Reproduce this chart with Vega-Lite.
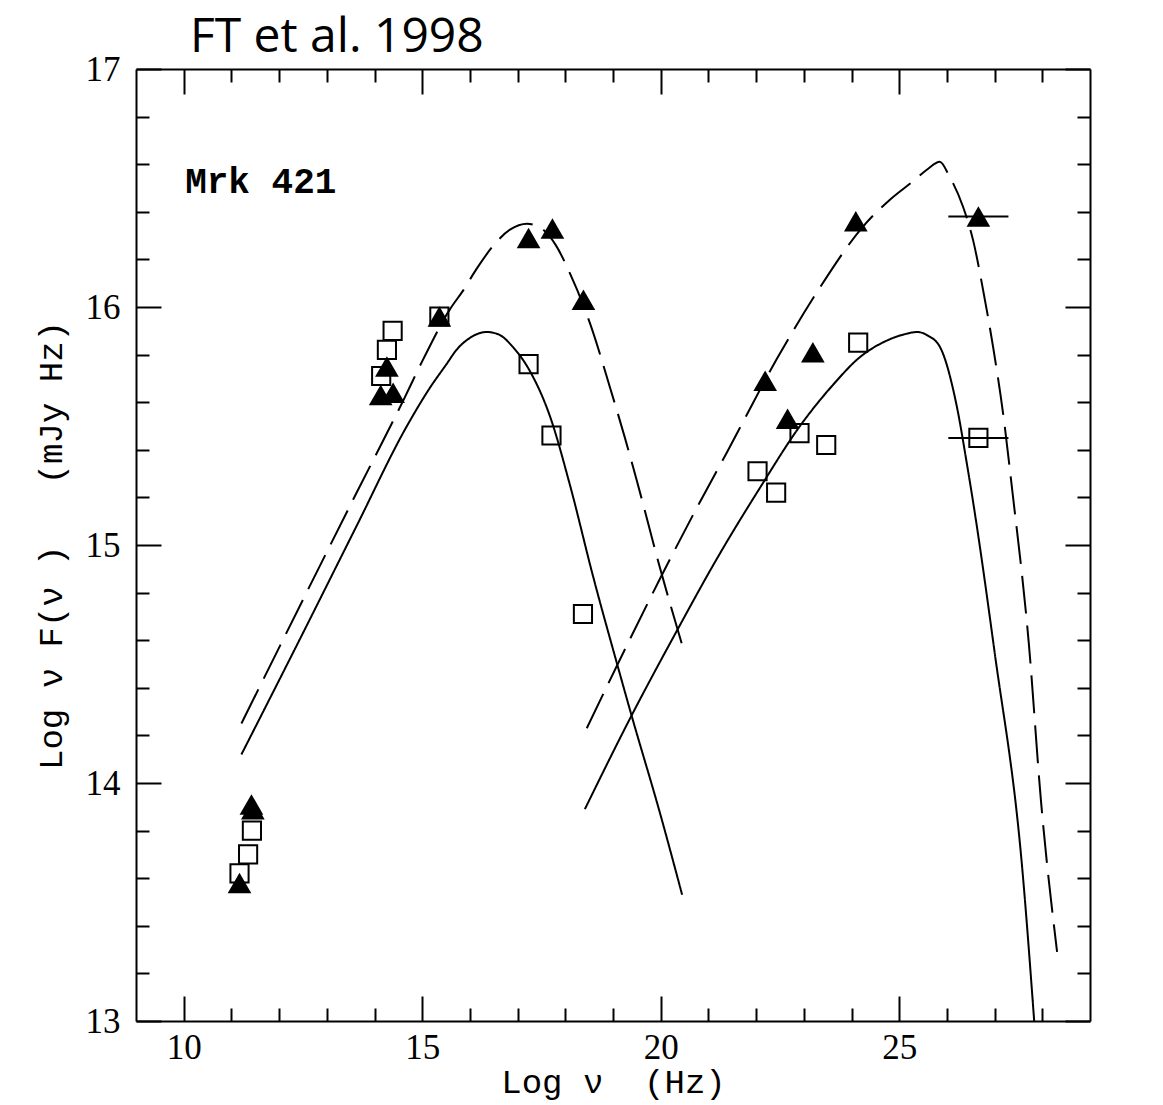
{
  "$schema": "https://vega.github.io/schema/vega-lite/v6.json",
  "autosize": "none",
  "width": 954,
  "height": 952,
  "padding": {"left": 136, "top": 69, "right": 73, "bottom": 84},
  "background": "white",
  "config": {
    "view": {"stroke": null},
    "axis": {
      "domainColor": "black",
      "domainWidth": 2,
      "tickColor": "black",
      "tickWidth": 2,
      "grid": false,
      "labelFont": "Liberation Serif",
      "labelFontSize": 35,
      "labelColor": "black",
      "titleFont": "Liberation Mono",
      "titleFontSize": 34,
      "titleFontWeight": "normal",
      "titleColor": "black"
    }
  },
  "datasets": {
    "curves": [
      {"curve": "synch_high", "state": "high", "x": 11.21, "y": 14.25},
      {"curve": "synch_high", "state": "high", "x": 12.5, "y": 14.77},
      {"curve": "synch_high", "state": "high", "x": 13.6, "y": 15.21},
      {"curve": "synch_high", "state": "high", "x": 14.61, "y": 15.61},
      {"curve": "synch_high", "state": "high", "x": 15.02, "y": 15.78},
      {"curve": "synch_high", "state": "high", "x": 15.58, "y": 15.99},
      {"curve": "synch_high", "state": "high", "x": 15.86, "y": 16.07},
      {"curve": "synch_high", "state": "high", "x": 16.14, "y": 16.16},
      {"curve": "synch_high", "state": "high", "x": 16.5, "y": 16.26},
      {"curve": "synch_high", "state": "high", "x": 16.84, "y": 16.325},
      {"curve": "synch_high", "state": "high", "x": 17.2, "y": 16.35},
      {"curve": "synch_high", "state": "high", "x": 17.5, "y": 16.33},
      {"curve": "synch_high", "state": "high", "x": 17.8, "y": 16.26},
      {"curve": "synch_high", "state": "high", "x": 18.1, "y": 16.14},
      {"curve": "synch_high", "state": "high", "x": 18.52, "y": 15.93},
      {"curve": "synch_high", "state": "high", "x": 18.94, "y": 15.66},
      {"curve": "synch_high", "state": "high", "x": 19.25, "y": 15.45},
      {"curve": "synch_high", "state": "high", "x": 19.5, "y": 15.27},
      {"curve": "synch_high", "state": "high", "x": 19.99, "y": 14.9},
      {"curve": "synch_high", "state": "high", "x": 20.45, "y": 14.58},
      {"curve": "synch_low", "state": "low", "x": 11.21, "y": 14.12},
      {"curve": "synch_low", "state": "low", "x": 12.5, "y": 14.63},
      {"curve": "synch_low", "state": "low", "x": 13.6, "y": 15.07},
      {"curve": "synch_low", "state": "low", "x": 14.68, "y": 15.5},
      {"curve": "synch_low", "state": "low", "x": 15.16, "y": 15.66},
      {"curve": "synch_low", "state": "low", "x": 15.51, "y": 15.76},
      {"curve": "synch_low", "state": "low", "x": 15.72, "y": 15.82},
      {"curve": "synch_low", "state": "low", "x": 16.0, "y": 15.87},
      {"curve": "synch_low", "state": "low", "x": 16.35, "y": 15.895},
      {"curve": "synch_low", "state": "low", "x": 16.6, "y": 15.885},
      {"curve": "synch_low", "state": "low", "x": 16.91, "y": 15.83},
      {"curve": "synch_low", "state": "low", "x": 17.26, "y": 15.73},
      {"curve": "synch_low", "state": "low", "x": 17.68, "y": 15.54},
      {"curve": "synch_low", "state": "low", "x": 18.1, "y": 15.25},
      {"curve": "synch_low", "state": "low", "x": 18.58, "y": 14.87},
      {"curve": "synch_low", "state": "low", "x": 19.1, "y": 14.49},
      {"curve": "synch_low", "state": "low", "x": 19.38, "y": 14.29},
      {"curve": "synch_low", "state": "low", "x": 19.99, "y": 13.87},
      {"curve": "synch_low", "state": "low", "x": 20.45, "y": 13.53},
      {"curve": "ic_high", "state": "high", "x": 18.45, "y": 14.23},
      {"curve": "ic_high", "state": "high", "x": 19.1, "y": 14.5},
      {"curve": "ic_high", "state": "high", "x": 19.99, "y": 14.86},
      {"curve": "ic_high", "state": "high", "x": 20.82, "y": 15.18},
      {"curve": "ic_high", "state": "high", "x": 21.39, "y": 15.39},
      {"curve": "ic_high", "state": "high", "x": 22.43, "y": 15.78},
      {"curve": "ic_high", "state": "high", "x": 23.3, "y": 16.07},
      {"curve": "ic_high", "state": "high", "x": 24.25, "y": 16.34},
      {"curve": "ic_high", "state": "high", "x": 24.8, "y": 16.45},
      {"curve": "ic_high", "state": "high", "x": 25.3, "y": 16.53},
      {"curve": "ic_high", "state": "high", "x": 25.6, "y": 16.58},
      {"curve": "ic_high", "state": "high", "x": 25.85, "y": 16.61},
      {"curve": "ic_high", "state": "high", "x": 26.05, "y": 16.55},
      {"curve": "ic_high", "state": "high", "x": 26.34, "y": 16.42},
      {"curve": "ic_high", "state": "high", "x": 26.55, "y": 16.28},
      {"curve": "ic_high", "state": "high", "x": 26.76, "y": 16.07},
      {"curve": "ic_high", "state": "high", "x": 26.97, "y": 15.83},
      {"curve": "ic_high", "state": "high", "x": 27.18, "y": 15.55},
      {"curve": "ic_high", "state": "high", "x": 27.37, "y": 15.23},
      {"curve": "ic_high", "state": "high", "x": 27.72, "y": 14.58},
      {"curve": "ic_high", "state": "high", "x": 27.97, "y": 13.93},
      {"curve": "ic_high", "state": "high", "x": 28.31, "y": 13.29},
      {"curve": "ic_low", "state": "low", "x": 18.41, "y": 13.89},
      {"curve": "ic_low", "state": "low", "x": 19.38, "y": 14.28},
      {"curve": "ic_low", "state": "low", "x": 20.34, "y": 14.64},
      {"curve": "ic_low", "state": "low", "x": 21.2, "y": 14.95},
      {"curve": "ic_low", "state": "low", "x": 22.08, "y": 15.24},
      {"curve": "ic_low", "state": "low", "x": 22.92, "y": 15.5},
      {"curve": "ic_low", "state": "low", "x": 23.6, "y": 15.67},
      {"curve": "ic_low", "state": "low", "x": 24.18, "y": 15.79},
      {"curve": "ic_low", "state": "low", "x": 24.7, "y": 15.855},
      {"curve": "ic_low", "state": "low", "x": 25.1, "y": 15.885},
      {"curve": "ic_low", "state": "low", "x": 25.38, "y": 15.895},
      {"curve": "ic_low", "state": "low", "x": 25.6, "y": 15.88},
      {"curve": "ic_low", "state": "low", "x": 25.86, "y": 15.83},
      {"curve": "ic_low", "state": "low", "x": 26.21, "y": 15.58},
      {"curve": "ic_low", "state": "low", "x": 26.42, "y": 15.34},
      {"curve": "ic_low", "state": "low", "x": 26.55, "y": 15.18},
      {"curve": "ic_low", "state": "low", "x": 27.0, "y": 14.55},
      {"curve": "ic_low", "state": "low", "x": 27.58, "y": 13.64},
      {"curve": "ic_low", "state": "low", "x": 27.83, "y": 13.0}
    ],
    "points": [
      {"state": "low", "x": 11.17, "y": 13.62},
      {"state": "low", "x": 11.35, "y": 13.7},
      {"state": "low", "x": 11.43, "y": 13.8},
      {"state": "low", "x": 14.14, "y": 15.71},
      {"state": "low", "x": 14.26, "y": 15.82},
      {"state": "low", "x": 14.38, "y": 15.9},
      {"state": "low", "x": 15.36, "y": 15.96},
      {"state": "low", "x": 17.23, "y": 15.76},
      {"state": "low", "x": 17.71, "y": 15.46},
      {"state": "low", "x": 18.37, "y": 14.71},
      {"state": "low", "x": 22.03, "y": 15.31},
      {"state": "low", "x": 22.42, "y": 15.22},
      {"state": "low", "x": 22.91, "y": 15.47},
      {"state": "low", "x": 23.47, "y": 15.42},
      {"state": "low", "x": 24.14, "y": 15.85},
      {"state": "low", "x": 26.66, "y": 15.45, "xlo": 26.03, "xhi": 27.29},
      {"state": "high", "x": 11.17, "y": 13.58},
      {"state": "high", "x": 11.42, "y": 13.91},
      {"state": "high", "x": 11.45, "y": 13.89},
      {"state": "high", "x": 14.13, "y": 15.63},
      {"state": "high", "x": 14.39, "y": 15.64},
      {"state": "high", "x": 14.26, "y": 15.75},
      {"state": "high", "x": 15.36, "y": 15.96},
      {"state": "high", "x": 17.23, "y": 16.29},
      {"state": "high", "x": 17.73, "y": 16.33},
      {"state": "high", "x": 18.38, "y": 16.03},
      {"state": "high", "x": 22.19, "y": 15.69},
      {"state": "high", "x": 22.66, "y": 15.53},
      {"state": "high", "x": 23.19, "y": 15.81},
      {"state": "high", "x": 24.09, "y": 16.36},
      {"state": "high", "x": 26.66, "y": 16.38, "xlo": 26.03, "xhi": 27.29}
    ],
    "labels": [
      {"x": 10.03, "y": 16.48, "text": "Mrk 421"}
    ],
    "heading": [
      {"x": 10.13, "y": 17.071, "text": "FT et al. 1998"}
    ]
  },
  "resolve": {"axis": {"x": "independent", "y": "independent"}},
  "layer": [
    {
      "data": {"name": "curves"},
      "mark": {"type": "line", "color": "black", "strokeWidth": 2, "clip": true, "interpolate": "monotone"},
      "encoding": {
        "x": {"field": "x", "type": "quantitative",
              "scale": {"domain": [9, 29], "nice": false, "zero": false},
              "axis": {"orient": "bottom", "values": [10, 15, 20, 25], "tickSize": -25, "labelPadding": 34, "title": "Log ν\u00a0\u00a0(Hz)", "titlePadding": 0}},
        "y": {"field": "y", "type": "quantitative",
              "scale": {"domain": [13, 17], "nice": false, "zero": false},
              "axis": {"orient": "left", "values": [13, 14, 15, 16, 17], "tickSize": -25, "labelPadding": 41, "title": "Log ν F(ν )\u00a0\u00a0\u00a0(mJy Hz)", "titlePadding": 17}},
        "detail": {"field": "curve"},
        "order": {"field": "x", "type": "quantitative"},
        "strokeDash": {"field": "state", "type": "nominal",
                       "scale": {"domain": ["low", "high"], "range": [[1, 0], [38, 12]]},
                       "legend": null}
      }
    },
    {
      "data": {"name": "points"},
      "transform": [{"filter": "datum.state === 'low'"}],
      "mark": {"type": "point", "shape": "square", "size": 330, "filled": false, "stroke": "black", "strokeWidth": 2, "opacity": 1},
      "encoding": {
        "x": {"field": "x", "type": "quantitative",
              "scale": {"domain": [9, 29], "nice": false, "zero": false},
              "axis": {"orient": "bottom", "values": [11, 12, 13, 14, 16, 17, 18, 19, 21, 22, 23, 24, 26, 27, 28], "tickSize": -13, "labels": false, "domain": false, "title": null}},
        "y": {"field": "y", "type": "quantitative",
              "scale": {"domain": [13, 17], "nice": false, "zero": false},
              "axis": {"orient": "left", "values": [13.2, 13.4, 13.6, 13.8, 14.2, 14.4, 14.6, 14.8, 15.2, 15.4, 15.6, 15.8, 16.2, 16.4, 16.6, 16.8], "tickSize": -13, "labels": false, "domain": false, "title": null}}
      }
    },
    {
      "data": {"name": "points"},
      "transform": [{"filter": "datum.state === 'high'"}],
      "mark": {"type": "point", "shape": "triangle-up", "size": 560, "filled": true, "color": "black", "opacity": 1},
      "encoding": {
        "x": {"field": "x", "type": "quantitative",
              "scale": {"domain": [9, 29], "nice": false, "zero": false},
              "axis": {"orient": "top", "values": [10, 15, 20, 25], "tickSize": -25, "labels": false, "title": null}},
        "y": {"field": "y", "type": "quantitative",
              "scale": {"domain": [13, 17], "nice": false, "zero": false},
              "axis": {"orient": "right", "values": [13, 14, 15, 16, 17], "tickSize": -25, "labels": false, "title": null}}
      }
    },
    {
      "data": {"name": "points"},
      "transform": [{"filter": "isValid(datum.xlo)"}],
      "mark": {"type": "rule", "color": "black", "strokeWidth": 2},
      "encoding": {
        "x": {"field": "xlo", "type": "quantitative",
              "scale": {"domain": [9, 29], "nice": false, "zero": false},
              "axis": {"orient": "top", "values": [11, 12, 13, 14, 16, 17, 18, 19, 21, 22, 23, 24, 26, 27, 28], "tickSize": -13, "labels": false, "domain": false, "title": null}},
        "x2": {"field": "xhi"},
        "y": {"field": "y", "type": "quantitative",
              "scale": {"domain": [13, 17], "nice": false, "zero": false},
              "axis": {"orient": "right", "values": [13.2, 13.4, 13.6, 13.8, 14.2, 14.4, 14.6, 14.8, 15.2, 15.4, 15.6, 15.8, 16.2, 16.4, 16.6, 16.8], "tickSize": -13, "labels": false, "domain": false, "title": null}}
      }
    },
    {
      "data": {"name": "labels"},
      "mark": {"type": "text", "font": "Liberation Mono", "fontSize": 36, "fontWeight": "bold", "align": "left", "baseline": "alphabetic", "color": "black"},
      "encoding": {
        "x": {"field": "x", "type": "quantitative", "scale": {"domain": [9, 29], "nice": false, "zero": false}, "axis": null},
        "y": {"field": "y", "type": "quantitative", "scale": {"domain": [13, 17], "nice": false, "zero": false}, "axis": null},
        "text": {"field": "text"}
      }
    },
    {
      "data": {"name": "heading"},
      "mark": {"type": "text", "font": "Open Sans", "fontSize": 48, "align": "left", "baseline": "alphabetic", "color": "black", "clip": false},
      "encoding": {
        "x": {"field": "x", "type": "quantitative", "scale": {"domain": [9, 29], "nice": false, "zero": false}, "axis": null},
        "y": {"field": "y", "type": "quantitative", "scale": {"domain": [13, 17], "nice": false, "zero": false}, "axis": null},
        "text": {"field": "text"}
      }
    }
  ]
}
